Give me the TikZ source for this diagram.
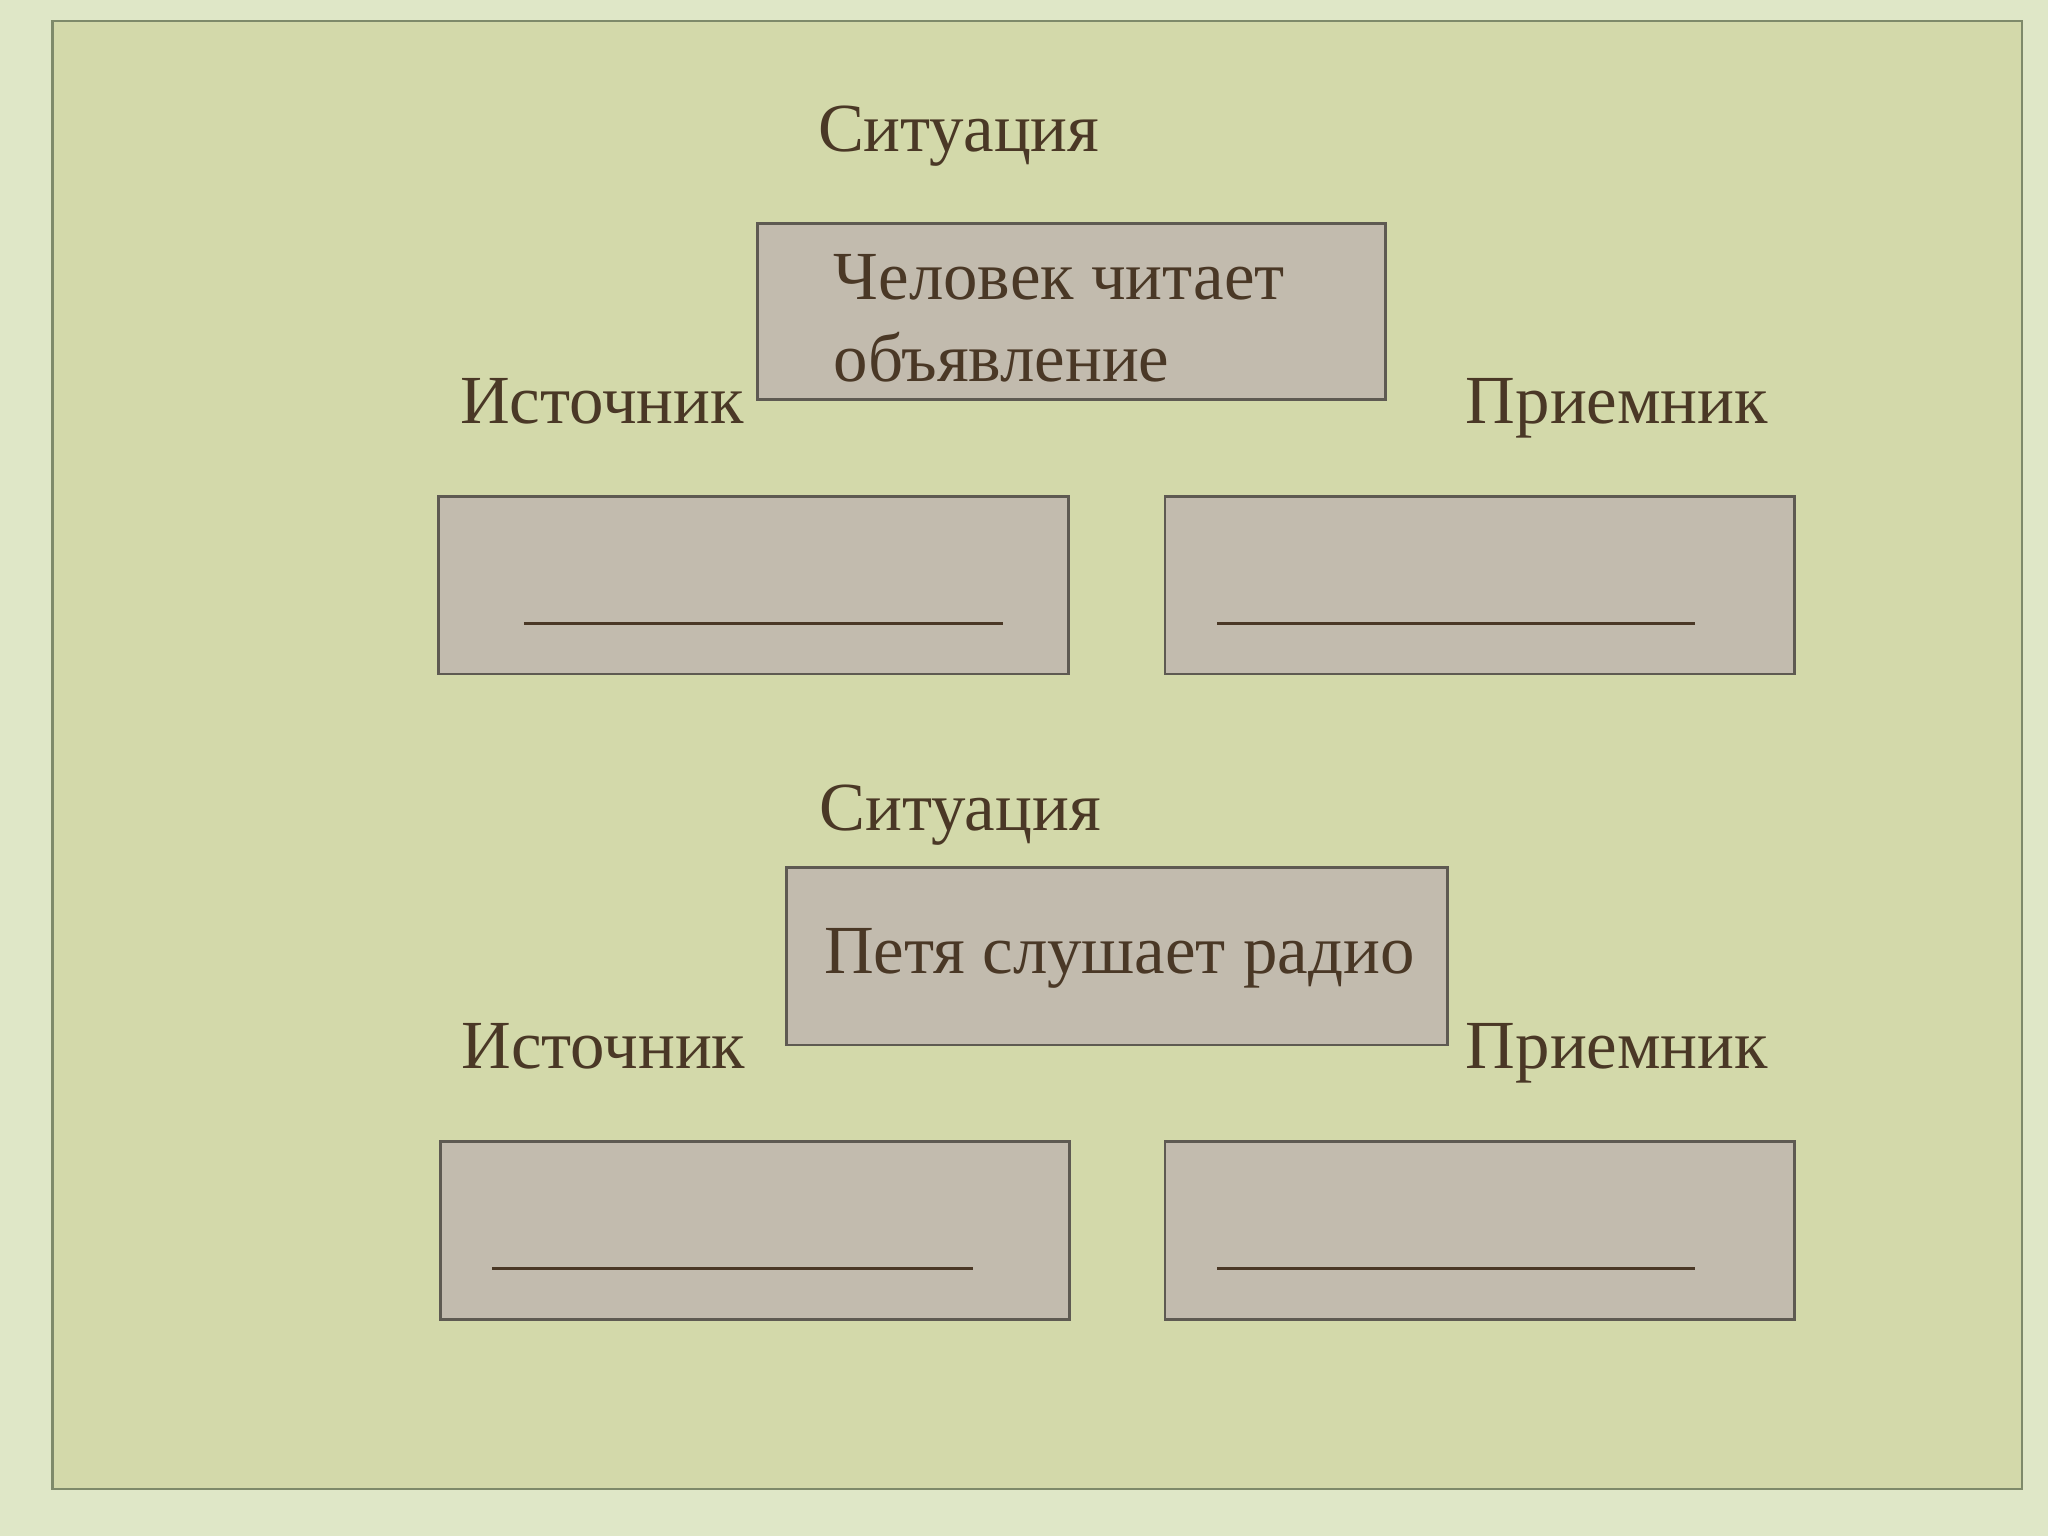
\documentclass[tikz,border=0pt]{standalone}
\usepackage{fontspec}
\setmainfont{Liberation Serif}
\definecolor{outerbg}{HTML}{DFE7C7}
\definecolor{innerbg}{HTML}{D3D9AA}
\definecolor{frame}{HTML}{7E8A6A}
\definecolor{boxfill}{HTML}{C2BBAE}
\definecolor{boxline}{HTML}{5E5A52}
\definecolor{txt}{HTML}{4A3826}
\begin{document}
\begin{tikzpicture}[x=0.02cm,y=-0.02cm,
  gbox/.style={draw=boxline,line width=1.2pt,fill=boxfill},
  lbl/.style={text=txt,font=\fontsize{30}{36}\selectfont,inner sep=0pt},
  blank/.style={draw=txt,line width=1.3pt}]
\fill[outerbg] (0,0) rectangle (1568,1176);
\useasboundingbox (0,0) rectangle (1568,1176);
\draw[frame,fill=innerbg,line width=1.2pt] (40,16) rectangle (1548,1140);
% block 1
\node[lbl,anchor=base] (sit1) at (734,116) {Ситуация};
\draw[gbox] (580,171) rectangle (1061,306);
\node[lbl,anchor=base west] (t1a) at (638,229) {Человек читает};
\node[lbl,anchor=base west] (t1b) at (638,292) {объявление};
\node[lbl,anchor=base] (src1) at (461,324) {Источник};
\node[lbl,anchor=base] (rcv1) at (1238,324) {Приемник};
\draw[gbox] (336,380) rectangle (818,516);
\draw[gbox] (892,380) rectangle (1374,516);
\draw[blank] (401,477) -- (768,477);
\draw[blank] (932,477) -- (1298,477);
% block 2
\node[lbl,anchor=base] (sit2) at (735,636) {Ситуация};
\draw[gbox] (602,664) rectangle (1108,800);
\node[lbl,anchor=base] (t2) at (857,745) {Петя слушает радио};
\node[lbl,anchor=base] (src2) at (462,818) {Источник};
\node[lbl,anchor=base] (rcv2) at (1238,818) {Приемник};
\draw[gbox] (337,874) rectangle (819,1010);
\draw[gbox] (892,874) rectangle (1374,1010);
\draw[blank] (377,971) -- (745,971);
\draw[blank] (932,971) -- (1298,971);
\end{tikzpicture}
\end{document}
